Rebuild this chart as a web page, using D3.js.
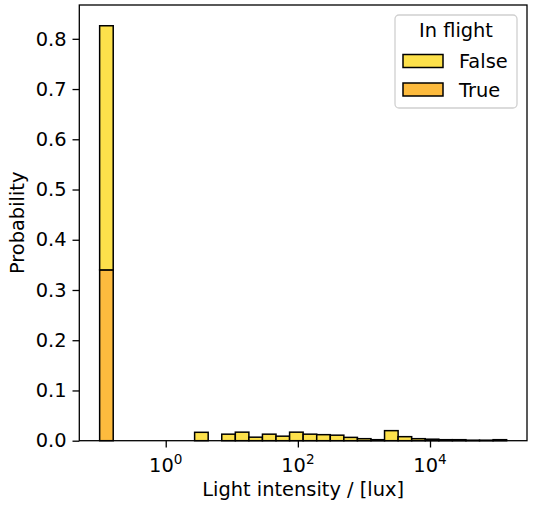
<!DOCTYPE html>
<html>
<head>
<meta charset="utf-8">
<script src="https://cdn.jsdelivr.net/npm/d3@7"></script>
<style>
body { margin: 0; background: #fff; }
text { font-family: "DejaVu Sans", sans-serif; fill: #000; }
</style>
</head>
<body>
<div id="canvas"></div>
<script>
var width = 533;
var height = 507;

// histogram bins in log10(lux)
var logMin = -1;
var logMax = 5.16;
var numBins = 30;

// probability per bin, stacked (True at the bottom, False on top)
var falseProb = [0.486, 0, 0, 0, 0, 0, 0, 0.0167, 0, 0.013,
	0.017, 0.007, 0.013, 0.009, 0.017, 0.013, 0.012, 0.011, 0.0066, 0.004,
	0.002, 0.02, 0.008, 0.004, 0.003, 0.002, 0.002, 0.001, 0.001, 0.002];
var trueProb = [0.34, 0, 0, 0, 0, 0, 0, 0, 0, 0,
	0, 0, 0, 0, 0, 0, 0, 0, 0, 0,
	0, 0, 0, 0, 0, 0, 0, 0, 0, 0];

var hueLabels = ["False", "True"];
var hueColors = ["#fde14b", "#fdbb3e"];

var xTicks = [1, 100, 10000];
var xTickExp = ["0", "2", "4"];
var yTicks = [0, 0.1, 0.2, 0.3, 0.4, 0.5, 0.6, 0.7, 0.8];

var margin = {left: 79.3, right: 6, top: 5, bottom: 66.3};
var fs = 19.4;
var tickLen = 6.8;

var svg = d3.select("#canvas").append("svg")
	.attr("width", width)
	.attr("height", height);

var binW = (logMax - logMin) / numBins;
var edges = d3.range(numBins + 1).map(function(i) { return Math.pow(10, logMin + i * binW); });
var pad = (logMax - logMin) * 0.05;

var x = d3.scaleLog()
	.domain([Math.pow(10, logMin - pad), Math.pow(10, logMax + pad)])
	.range([margin.left, width - margin.right]);

var maxTotal = d3.max(d3.range(numBins), function(i) { return falseProb[i] + trueProb[i]; });
var y = d3.scaleLinear()
	.domain([0, maxTotal * 1.05])
	.range([height - margin.bottom, margin.top]);

// bars
var bars = d3.range(numBins).map(function(i) {
	return {x0: edges[i], x1: edges[i + 1], t: trueProb[i], f: falseProb[i]};
});

svg.append("g").selectAll("rect.true")
	.data(bars).enter().append("rect")
	.attr("x", function(d) { return x(d.x0); })
	.attr("width", function(d) { return x(d.x1) - x(d.x0); })
	.attr("y", function(d) { return y(d.t); })
	.attr("height", function(d) { return y(0) - y(d.t); })
	.style("fill", hueColors[1])
	.style("stroke", "#000")
	.style("stroke-width", 1.5);

svg.append("g").selectAll("rect.false")
	.data(bars).enter().append("rect")
	.attr("x", function(d) { return x(d.x0); })
	.attr("width", function(d) { return x(d.x1) - x(d.x0); })
	.attr("y", function(d) { return y(d.t + d.f); })
	.attr("height", function(d) { return y(d.t) - y(d.t + d.f); })
	.style("fill", hueColors[0])
	.style("stroke", "#000")
	.style("stroke-width", 1.5);

// frame
svg.append("rect")
	.attr("x", margin.left)
	.attr("y", margin.top)
	.attr("width", width - margin.right - margin.left)
	.attr("height", height - margin.bottom - margin.top)
	.style("fill", "none")
	.style("stroke", "#000")
	.style("stroke-width", 1.3);

// y axis
var yAxis = svg.append("g")
	.attr("transform", "translate(" + margin.left + ",0)")
	.call(d3.axisLeft(y).tickValues(yTicks).tickFormat(d3.format(".1f")).tickSizeOuter(0).tickSize(tickLen).tickPadding(6));
yAxis.select(".domain").remove();
yAxis.selectAll("line").style("stroke", "#000").style("stroke-width", 1.3);
yAxis.selectAll("text").style("font-size", fs + "px").style("font-family", "DejaVu Sans");

// x axis
var xAxis = svg.append("g")
	.attr("transform", "translate(0," + (height - margin.bottom) + ")")
	.call(d3.axisBottom(x).tickValues(xTicks).tickFormat("").tickSizeOuter(0).tickSize(tickLen));
xAxis.select(".domain").remove();
xAxis.selectAll("line").style("stroke", "#000").style("stroke-width", 1.3);

xTicks.forEach(function(v, i) {
	var t = svg.append("text")
		.attr("x", x(v))
		.attr("y", height - margin.bottom + 31)
		.style("text-anchor", "middle")
		.style("font-size", fs + "px");
	t.append("tspan").text("10");
	t.append("tspan").attr("dy", -8).style("font-size", (fs * 0.7) + "px").text(xTickExp[i]);
});

svg.append("text")
	.attr("x", (margin.left + width - margin.right) / 2)
	.attr("y", 496)
	.style("text-anchor", "middle")
	.style("font-size", fs + "px")
	.text("Light intensity / [lux]");

svg.append("text")
	.attr("transform", "translate(24," + ((margin.top + height - margin.bottom) / 2) + ") rotate(-90)")
	.style("text-anchor", "middle")
	.style("font-size", fs + "px")
	.text("Probability");

// legend
var lg = svg.append("g").attr("transform", "translate(395,15)");
lg.append("rect")
	.attr("width", 122)
	.attr("height", 93)
	.attr("rx", 4)
	.style("fill", "rgba(255,255,255,0.8)")
	.style("stroke", "#d0d0d0")
	.style("stroke-width", 1.3);
lg.append("text")
	.attr("x", 61)
	.attr("y", 22)
	.style("text-anchor", "middle")
	.style("font-size", fs + "px")
	.text("In flight");
hueLabels.forEach(function(lab, i) {
	lg.append("rect")
		.attr("x", 8)
		.attr("y", 39.5 + i * 28.5)
		.attr("width", 40)
		.attr("height", 13)
		.style("fill", hueColors[i])
		.style("stroke", "#000")
		.style("stroke-width", 1.5);
	lg.append("text")
		.attr("x", 64)
		.attr("y", 53 + i * 28.5)
		.style("font-size", fs + "px")
		.text(lab);
});
</script>
</body>
</html>
